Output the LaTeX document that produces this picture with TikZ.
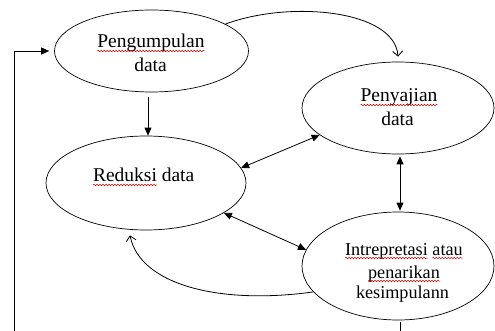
\documentclass[tikz,border=0pt]{standalone}
\usepackage{fontspec}
\setmainfont{Liberation Serif}
\usetikzlibrary{arrows.meta,shapes.geometric,decorations.pathmorphing}
\begin{document}
\begin{tikzpicture}[x=1pt,y=-1pt,line width=0.8pt,
  ell/.style={draw,ellipse,inner sep=0pt,line width=0.7pt},
  ta/.style={inner sep=0pt,outer sep=0pt,font=\fontsize{19.5}{24}\selectfont},
  tb/.style={inner sep=0pt,outer sep=0pt,font=\fontsize{18.2}{22}\selectfont},
  spell/.style={draw=red!85!black,line width=0.5pt,decorate,decoration={snake,amplitude=0.8pt,segment length=3pt}},
  arr/.style={-{Triangle[length=8pt,width=7pt]}},
  darr/.style={{Triangle[length=8pt,width=7pt]}-{Triangle[length=8pt,width=7pt]}},
  openarr/.style={-{Straight Barb[length=5pt,width=10pt]}}]
\useasboundingbox (0,0) rectangle (495,331);
% ellipses
\node[ell,minimum width=194pt,minimum height=82pt] (e1) at (151.5,51) {};
\node[ell,minimum width=192pt,minimum height=92pt] (e2) at (398,108) {};
\node[ell,minimum width=200pt,minimum height=94pt] (e3) at (146,183) {};
\node[ell,minimum width=192pt,minimum height=108pt] (e4) at (398,266) {};
% texts
\node[ta,anchor=base] (t1a) at (151,48) {Pengumpulan};
\node[ta,anchor=base] (t1b) at (150.5,72) {data};
\node[ta,anchor=base] (t2a) at (399,102) {Penyajian};
\node[ta,anchor=base] (t2b) at (397.5,126) {data};
\node[ta,anchor=base west] (t3a) at (93,182) {Reduksi};
\node[ta,anchor=base west] (t3b) at ([xshift=4.9pt]t3a.base east) {data};
\node[tb,anchor=base west] (t4a) at (345,255) {Intrepretasi};
\node[tb,anchor=base west] (t4b) at ([xshift=4.55pt]t4a.base east) {atau};
\node[tb,anchor=base] (t4c) at (404,278) {penarikan};
\node[tb,anchor=base] (t4d) at (402.5,298) {kesimpulann};
% spell-check underlines
\foreach \w in {t1a,t2a,t3a,t4a,t4b,t4c}
  \path[spell] ([yshift=-3pt]\w.base west) -- ([yshift=-3pt]\w.base east);
% connectors
\draw[arr] ([xshift=-3.5pt,yshift=-5pt]e1.south) -- ([xshift=-3.5pt]e1.south |- e3.north);
\draw[openarr] (e1.20) .. controls (290,0) and (395,10) .. ([yshift=5pt]e2.north);
\draw[darr] (e3.9) -- (e2.199);
\draw[darr] (e3.-21) -- (e4.170);
\draw[darr,shorten <=2pt,shorten >=1pt] ([xshift=2pt]e2.south) -- ([xshift=2pt]e4.north);
\draw[openarr] (e4.197) .. controls (220,305) and (140,285) .. ([xshift=-16pt,yshift=-5pt]e3.south);
\coordinate (fb) at (14,331);
\draw ([xshift=2pt,yshift=-2pt]e4.south) -- ([xshift=2pt]e4.south |- fb);
\draw[arr] (fb) |- ([xshift=-5pt]e1.west);
\end{tikzpicture}
\end{document}
